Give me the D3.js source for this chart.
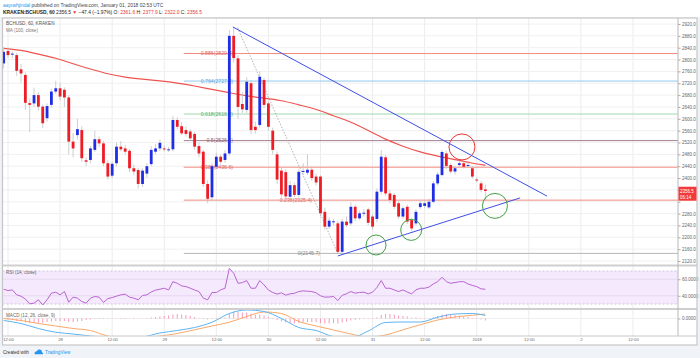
<!DOCTYPE html>
<html>
<head>
<meta charset="utf-8">
<script src="https://cdn.jsdelivr.net/npm/d3@7/dist/d3.min.js"></script>
<style>
html,body{margin:0;padding:0;background:#ffffff;}
svg{display:block;font-family:"Liberation Sans",Arial,sans-serif;}
</style>
</head>
<body>
<svg id="chart" width="700" height="358"></svg>
<script>
// ---------------- DATA ----------------
const opens  = [2787,2829,2817,2815,2767,2748,2653,2652,2680,2641, 2602,2647,2692,2703,2698,2672,2523,2545,2562,2460,
                2461,2495,2531,2517,2450,2408,2450,2506,2500,2492, 2433,2427,2380,2415,2447,2489,2500,2500,2497,2497,
                2596,2575,2562,2557,2549,2508,2489,2380,2335,2438, 2472,2461,2483,2880,2804,2650,2630,2720,2573,2579,
                2731,2652,2560,2480,2425,2420,2337,2376,2343,2421, 2418,2428,2405,2405,2286,2236,2252,2247,2151,2253,
                2247,2303,2264,2281,2294,2270,2262,2354,2470,2348, 2343,2315,2270,2303,2258,2247,2302,2306,2301,2320,
                2382,2410,2483,2444,2422,2444,2450,2442,2433,2395, 2382,2361.6];
const highs  = [2842,2840,2828,2822,2785,2756,2668,2705,2690,2648, 2652,2702,2728,2722,2706,2680,2552,2600,2575,2470,
                2508,2560,2540,2525,2460,2455,2520,2525,2512,2498, 2445,2435,2432,2450,2508,2515,2530,2510,2505,2610,
                2605,2590,2575,2565,2556,2520,2495,2392,2450,2485, 2480,2495,2900,2907.1,2815,2690,2740,2730,2590,2760,
                2738,2660,2570,2490,2435,2430,2390,2385,2430,2450, 2480,2440,2415,2410,2300,2268,2262,2255,2262,2270,
                2318,2310,2290,2295,2300,2278,2365,2495,2478,2360, 2350,2322,2305,2310,2265,2295,2325,2322,2330,2390,
                2420,2495,2492,2450,2440,2458,2456,2452,2440,2402, 2390,2377.9];
const lows   = [2770,2806,2805,2745,2720,2630,2555,2640,2628,2568, 2590,2638,2684,2662,2640,2480,2470,2530,2455,2440,
                2450,2488,2505,2440,2395,2400,2440,2490,2480,2420, 2410,2365,2370,2400,2440,2480,2492,2490,2488,2490,
                2565,2545,2540,2525,2495,2470,2370,2315,2325,2430, 2445,2452,2475,2790,2600,2620,2620,2550,2550,2570,
                2635,2560,2480,2380,2335,2325,2330,2335,2335,2410, 2410,2390,2375,2270,2225,2228,2240,2145.7,2148,2235,
                2240,2255,2258,2270,2240,2225,2250,2345,2340,2315, 2295,2262,2262,2245,2220,2240,2295,2298,2295,2315,
                2375,2405,2430,2415,2412,2438,2432,2436,2398,2385, 2352,2322.0];
const closes = [2826,2815,2820,2762,2753,2654,2647,2680,2641,2585, 2643,2692,2703,2675,2672,2523,2500,2565,2467,2455,
                2500,2531,2517,2450,2405,2448,2506,2497,2489,2433, 2422,2380,2425,2440,2495,2500,2519,2497,2497,2596,
                2573,2551,2549,2534,2506,2483,2380,2330,2440,2472, 2455,2483,2880,2805,2640,2632,2725,2562,2562,2742,
                2647,2573,2495,2395,2345,2338,2376,2343,2421,2424, 2428,2400,2385,2281,2236,2256,2254,2151,2253,2241,
                2303,2264,2281,2283,2249,2236,2354,2472,2348,2326, 2303,2270,2298,2253,2230,2286,2315,2315,2320,2382,
                2412,2488,2441,2422,2433,2450,2438,2444,2405,2393, 2360,2356.5];

// MA(100, close) read at every 4th bar
const maIdx  = [0,4,8,12,16,20,24,28,32,36,40,44,48,52,56,60,64,68,72,76,80,84,88,92,96,100,104,108,111];
const maVals = [2838,2832,2818,2806,2785,2768,2751,2740,2734,2728,2721,2711,2699,2688,2677,2670,2662,2647,2633,2610,2590,2561,2530,2507,2487,2474,2462,2450,2443];

const rsiVals = [47.9,46.3,47.1,41.1,39.5,36.0,30.2,31.0,35.1,28.8, 35.1,43.1,44.3,41.1,45.1,32.2,38.3,37.1,33.0,31.0,
                 37.1,39.1,38.3,31.9,36.5,37.8,39.5,41.1,41.9,38.3, 37.1,35.1,40.3,41.1,44.5,46.8,47.9,49.1,47.1,57.1,
                 55.1,51.9,51.1,49.1,47.0,45.1,37.1,35.1,43.9,43.9, 47.1,49.1,73.2,67.2,55.1,55.9,58.4,49.1,49.1,58.4,
                 53.1,47.0,44.0,42.0,43.5,40.7,42.3,43.0,45.1,45.9, 45.5,45.1,43.5,40.0,38.3,38.5,39.1,34.2,40.5,42.5,
                 45.1,43.1,44.0,44.3,42.3,44.3,50.0,58.4,49.1,49.1, 47.0,45.1,47.1,44.5,42.3,47.1,49.1,49.1,50.5,54.3,
                 57.1,62.4,57.1,55.1,56.0,57.0,57.1,54.3,52.5,51.1, 48.3,47.9];

// MACD (12,26,close,9) read at every 4th bar (maIdx)
const macdVals   = [-8,-20,-40,-55,-62,-70,-75,-78,-74,-58,-48,-36,-15,20,34,28,0,-36,-48,-72,-77,-50,-16,-14,-14,5,18,20,12];
const signalVals = [0,-8,-20,-30,-40,-48,-70,-78,-78,-70,-60,-45,-30,-15,8,26,20,-12,-30,-46,-62,-74,-66,-45,-25,-6,6,13,18];
const histVals = [-2,-4,-6,-10,-12,-16,-18,-18,-18,-17, -14,-12,-10,-10,-10,-14,-14,-12,-10,-6,
                  -4,-2,0,-2,-2,-1,1,2,2,1, 0,-1,1,2,4,6,8,10,12,16,
                  18,16,14,10,6,2,-2,-4,-2,0, 2,4,20,28,26,24,24,20,16,16,
                  12,6,0,-6,-12,-16,-18,-20,-18,-16, -14,-14,-14,-18,-20,-20,-18,-20,-16,-12,
                  -8,-6,-4,-2,-2,-2,4,14,18,18, 16,12,10,8,4,4,2,2,2,6,
                  10,16,18,16,14,12,8,6,2,-2, -4,-8];

// Fibonacci retracement levels
const fibRatios = ["0.886","0.764","0.618","0.5","0.382","0.236","0"];
const fibPrices = [2820.3,2727.4,2616.2,2526.4,2436.6,2325.4,2145.7];
const fibColors = ["#f28b82","#90c8f0","#9fd8b0","#a57f90","#f28b82","#f28b82","#b5b5b5"];
const fibText   = ["#e06666","#5aa9e0","#4fb37a","#8a6577","#e06666","#e06666","#888888"];

// tick labels
const priceTicks = [2120,2160,2200,2240,2280,2320,2360,2400,2440,2480,2520,2560,2600,2640,2680,2720,2760,2800,2840,2880,2920];
const xTickLabels = ["12:00","28","12:00","29","12:00","30","12:00","31","12:00","2018","12:00","2","12:00"];

// drawn annotations (bar index, price)
const upperTrend = [[52.8,2910],[125.2,2339]];
const lowerTrend = [[77.0,2137],[119.0,2333]];
const fibTrend   = [[53.9,2907.1],[77.0,2145.7]];
const redCircles   = [[105.6,2505,13]];
const greenCircles = [[85.8,2174,10],[93.9,2225,10.5],[113.2,2306,12.5]];

// ---------------- LAYOUT ----------------
const svg = d3.select('#chart');
const BLUE = "#1f2ee6", RED = "#ee1c25";
const plotL = 2.5, plotR = 678;
const mainTop = 18, mainBot = 264, rsiTop = 267, rsiBot = 308, macdTop = 310, macdBot = 336;

const HOUR = 3600e3;
const t0 = Date.UTC(2017,11,27,11);
const bar = i => new Date(t0 + i*HOUR);
const x = d3.scaleUtc().domain([bar(0), bar(156)]).range([3.66, 3.66 + 156*4.34]);
const y = d3.scaleLinear().domain([2120,2920]).range([261,24]);
const yR = d3.scaleLinear().domain([30,70]).range([304,271]);
const yM = d3.scaleLinear().domain([-70,36]).range([336,309.5]);

const defs = svg.append('defs');
defs.append('clipPath').attr('id','clipMain').append('rect').attr('x',plotL).attr('y',mainTop).attr('width',plotR-plotL).attr('height',mainBot-mainTop);
defs.append('clipPath').attr('id','clipRsi').append('rect').attr('x',plotL).attr('y',rsiTop).attr('width',plotR-plotL).attr('height',rsiBot-rsiTop);
defs.append('clipPath').attr('id','clipMacd').append('rect').attr('x',plotL).attr('y',macdTop).attr('width',plotR-plotL).attr('height',macdBot-macdTop);

// backgrounds
svg.append('rect').attr('x',0).attr('y',0).attr('width',700).attr('height',358).attr('fill','#ffffff');
svg.append('rect').attr('x',0).attr('y',17).attr('width',700).attr('height',341).attr('fill','#f0f3f7');
svg.append('rect').attr('x',plotL).attr('y',mainTop).attr('width',697-plotL).attr('height',345-mainTop).attr('fill','#ffffff');

// grid
const xTickTimes = d3.utcHour.every(12).range(bar(0), bar(156));
const grid = svg.append('g');
grid.selectAll('line.vg').data(xTickTimes).join('line')
  .attr('x1',d=>x(d)).attr('x2',d=>x(d)).attr('y1',mainTop).attr('y2',macdBot)
  .attr('stroke','#ececec').attr('stroke-width',1);
grid.selectAll('line.hg').data(priceTicks).join('line')
  .attr('x1',plotL).attr('x2',plotR).attr('y1',d=>y(d)).attr('y2',d=>y(d))
  .attr('stroke','#f0f0f0').attr('stroke-width',1);

// ---------- main pane ----------
const gMain = svg.append('g').attr('clip-path','url(#clipMain)');
const fibStart = x(bar(41.5));
fibPrices.forEach((p,k)=>{
  gMain.append('line').attr('x1',fibStart).attr('x2',plotR).attr('y1',y(p)).attr('y2',y(p))
    .attr('stroke',fibColors[k]).attr('stroke-width',1);
});
const fibLabelEnd = [233,233,233,233,233,312,320];
fibPrices.forEach((p,k)=>{
  gMain.append('text').attr('x',fibLabelEnd[k]).attr('y',y(p)+1.8).attr('text-anchor','end')
    .attr('font-size',5.2).attr('fill',fibText[k]).text(`${fibRatios[k]}(${p.toFixed(1)})`);
});
gMain.append('line')
  .attr('x1',x(bar(fibTrend[0][0]))).attr('y1',y(fibTrend[0][1]))
  .attr('x2',x(bar(fibTrend[1][0]))).attr('y2',y(fibTrend[1][1]))
  .attr('stroke','#a0a0a0').attr('stroke-width',0.8).attr('stroke-dasharray','1.5,1.5');

gMain.append('path').datum(maIdx.map((i,k)=>[i,maVals[k]]))
  .attr('d', d3.line().x(d=>x(bar(d[0]))).y(d=>y(d[1])).curve(d3.curveBasis))
  .attr('fill','none').attr('stroke','#ef5350').attr('stroke-width',1.2);

const candles = opens.map((o,i)=>({t:bar(i),o,h:highs[i],l:lows[i],c:closes[i]}));
gMain.selectAll('line.wick').data(candles).join('line')
  .attr('x1',d=>x(d.t)).attr('x2',d=>x(d.t)).attr('y1',d=>y(d.h)).attr('y2',d=>y(d.l))
  .attr('stroke','#c2c2c2').attr('stroke-width',0.8);
gMain.selectAll('rect.body').data(candles).join('rect')
  .attr('x',d=>x(d.t)-1.4).attr('width',2.8)
  .attr('y',d=>y(Math.max(d.o,d.c))).attr('height',d=>Math.max(1,Math.abs(y(d.o)-y(d.c))))
  .attr('fill',d=>d.c>=d.o?BLUE:RED);

[upperTrend, lowerTrend].forEach(tl=>{
  gMain.append('line').attr('x1',x(bar(tl[0][0]))).attr('y1',y(tl[0][1]))
    .attr('x2',x(bar(tl[1][0]))).attr('y2',y(tl[1][1]))
    .attr('stroke','#3e4fe6').attr('stroke-width',1);
});
redCircles.forEach(c=>{
  gMain.append('circle').attr('cx',x(bar(c[0]))).attr('cy',y(c[1])).attr('r',c[2])
    .attr('fill','none').attr('stroke','#e53935').attr('stroke-width',1);
});
greenCircles.forEach(c=>{
  gMain.append('circle').attr('cx',x(bar(c[0]))).attr('cy',y(c[1])).attr('r',c[2])
    .attr('fill','none').attr('stroke','#43a047').attr('stroke-width',1);
});

svg.append('text').attr('x',6).attr('y',25).attr('font-size',4.6).attr('fill','#555').text('BCHUSD, 60, KRAKEN');
svg.append('text').attr('x',6).attr('y',31.5).attr('font-size',4.6).attr('fill','#777').text('MA (100, close)');

// ---------- RSI pane ----------
const gR = svg.append('g').attr('clip-path','url(#clipRsi)');
gR.append('rect').attr('x',plotL).attr('width',plotR-plotL).attr('y',yR(70)).attr('height',yR(30)-yR(70)).attr('fill','#f4e9fd');
[70,30].forEach(v=>gR.append('line').attr('x1',plotL).attr('x2',plotR).attr('y1',yR(v)).attr('y2',yR(v))
  .attr('stroke','#c9b7d6').attr('stroke-width',0.8).attr('stroke-dasharray','2,2'));
[60,40].forEach(v=>gR.append('line').attr('x1',plotL).attr('x2',plotR).attr('y1',yR(v)).attr('y2',yR(v))
  .attr('stroke','#e2d6ec').attr('stroke-width',0.8));
gR.append('path').datum(rsiVals)
  .attr('d', d3.line().x((d,i)=>x(bar(i))).y(d=>yR(d)))
  .attr('fill','none').attr('stroke','#b964cf').attr('stroke-width',1);
svg.append('text').attr('x',6).attr('y',274).attr('font-size',4.6).attr('fill','#666').text('RSI (14, close)');

// ---------- MACD pane ----------
const gM = svg.append('g').attr('clip-path','url(#clipMacd)');
gM.append('line').attr('x1',plotL).attr('x2',plotR).attr('y1',yM(0)).attr('y2',yM(0)).attr('stroke','#eeeeee');
gM.selectAll('line.h').data(histVals).join('line')
  .attr('x1',(d,i)=>x(bar(i))).attr('x2',(d,i)=>x(bar(i)))
  .attr('y1',yM(0)).attr('y2',d=>yM(d)===yM(0)?yM(0)-0.6:yM(d))
  .attr('stroke','#f78fb0').attr('stroke-width',0.9);
const mline = d3.line().x(d=>x(bar(d[0]))).y(d=>yM(d[1])).curve(d3.curveMonotoneX);
gM.append('path').datum(maIdx.map((i,k)=>[i,signalVals[k]])).attr('d',mline)
  .attr('fill','none').attr('stroke','#f9a86a').attr('stroke-width',1);
gM.append('path').datum(maIdx.map((i,k)=>[i,macdVals[k]])).attr('d',mline)
  .attr('fill','none').attr('stroke','#5bb5f2').attr('stroke-width',1);
svg.append('text').attr('x',6).attr('y',316.5).attr('font-size',4.6).attr('fill','#666').text('MACD (12, 26, close, 9)');

[mainBot+1.5, rsiBot+1].forEach(v=>{
  svg.append('line').attr('x1',plotL).attr('x2',697).attr('y1',v).attr('y2',v).attr('stroke','#cfcfcf').attr('stroke-width',2);
});

// ---------- axes ----------
const last = closes[closes.length-1];
const yAxis = d3.axisRight(y).tickValues(priceTicks).tickSize(2.5).tickPadding(1.5).tickFormat(d3.format('.1f'));
const gy = svg.append('g').attr('transform',`translate(${plotR},0)`).call(yAxis);
gy.select('.domain').remove();
gy.selectAll('line').attr('stroke','#aaa');
gy.selectAll('text').attr('font-size',4.5).attr('fill','#666').attr('font-family','Liberation Sans, Arial, sans-serif');
// the last-price tag covers the tick label beneath it
gy.selectAll('.tick').filter(d=>Math.abs(y(d)-(y(last)+2.8))<9).select('text').remove();

const rAxis = d3.axisRight(yR).tickValues([60,40]).tickSize(2.5).tickPadding(1.5).tickFormat(d3.format('.4f'));
const gr = svg.append('g').attr('transform',`translate(${plotR},0)`).call(rAxis);
gr.select('.domain').remove();
gr.selectAll('line').attr('stroke','#aaa');
gr.selectAll('text').attr('font-size',4.5).attr('fill','#666').attr('font-family','Liberation Sans, Arial, sans-serif');

const mAxis = d3.axisRight(yM).tickValues([0]).tickSize(2.5).tickPadding(1.5).tickFormat(d3.format('.4f'));
const gm = svg.append('g').attr('transform',`translate(${plotR},0)`).call(mAxis);
gm.select('.domain').remove();
gm.selectAll('line').attr('stroke','#aaa');
gm.selectAll('text').attr('font-size',4.5).attr('fill','#666').attr('font-family','Liberation Sans, Arial, sans-serif');

svg.append('line').attr('x1',plotR).attr('x2',plotR).attr('y1',mainTop).attr('y2',macdBot).attr('stroke','#b8b8b8').attr('stroke-width',1);

const xAxis = d3.axisBottom(x).tickValues(xTickTimes).tickSize(0).tickPadding(2.2).tickFormat((d,i)=>xTickLabels[i]);
const gx = svg.append('g').attr('transform',`translate(0,${macdBot})`).call(xAxis);
gx.select('.domain').remove();
gx.selectAll('text').attr('font-size',4.2).attr('fill','#666').attr('font-family','Liberation Sans, Arial, sans-serif');
svg.append('line').attr('x1',plotL).attr('x2',697).attr('y1',macdBot).attr('y2',macdBot).attr('stroke','#c8c8c8').attr('stroke-width',1);

svg.append('rect').attr('x',plotL).attr('y',mainTop).attr('width',697-plotL).attr('height',345-mainTop)
  .attr('fill','none').attr('stroke','#c6c6c6').attr('stroke-width',1.2);

// last price tag
svg.append('rect').attr('x',plotR+0.5).attr('y',y(last)-4.2).attr('width',18).attr('height',14).attr('fill','#f23a3a');
svg.append('text').attr('x',plotR+2).attr('y',y(last)+1.6).attr('font-size',4.5).attr('fill','#fff').text(last.toFixed(1));
svg.append('text').attr('x',plotR+2).attr('y',y(last)+8).attr('font-size',4.5).attr('fill','#fff').text('06:14');

// ---------- header ----------
const h1 = svg.append('text').attr('x',3).attr('y',6.8).attr('font-size',4.9).attr('fill','#444');
h1.append('tspan').attr('fill','#2196f3').text('aayushjindal');
h1.append('tspan').text(' published on TradingView.com, January 01, 2018 02:53 UTC');

const h2 = svg.append('text').attr('x',3).attr('y',13.6).attr('font-size',4.9).attr('fill','#222');
const parts = [
  ['KRAKEN:BCHUSD, 60','#222','bold'],[' 2356.5 ','#222','normal'],['▼','#e53935','normal'],
  [' −47.4 (−1.97%) ','#222','normal'],['O:','#222','normal'],[' 2361.6 ','#e53935','normal'],
  ['H:','#222','normal'],[' 2377.9 ','#e53935','normal'],['L:','#222','normal'],[' 2322.0 ','#e53935','normal'],
  ['C:','#222','normal'],[' 2356.5','#e53935','normal']
];
parts.forEach(p=>h2.append('tspan').attr('fill',p[1]).attr('font-weight',p[2]).attr('xml:space','preserve').text(p[0]));

// ---------- footer ----------
svg.append('text').attr('x',3).attr('y',353.5).attr('font-size',4.6).attr('fill','#333').text('Created with');
const logo = svg.append('g').attr('transform','translate(34,349)');
logo.append('path').attr('d','M0.5,4.5 Q0.5,2.2 2.8,2.2 Q3.6,0 6,0.6 Q8.2,1.2 8,3.2 Q9.4,3.6 9,5.2 L0.8,5.2 Z').attr('fill','#2196f3');
svg.append('text').attr('x',45).attr('y',353.5).attr('font-size',4.6).attr('fill','#2196f3').text('TradingView');
</script>
</body>
</html>
